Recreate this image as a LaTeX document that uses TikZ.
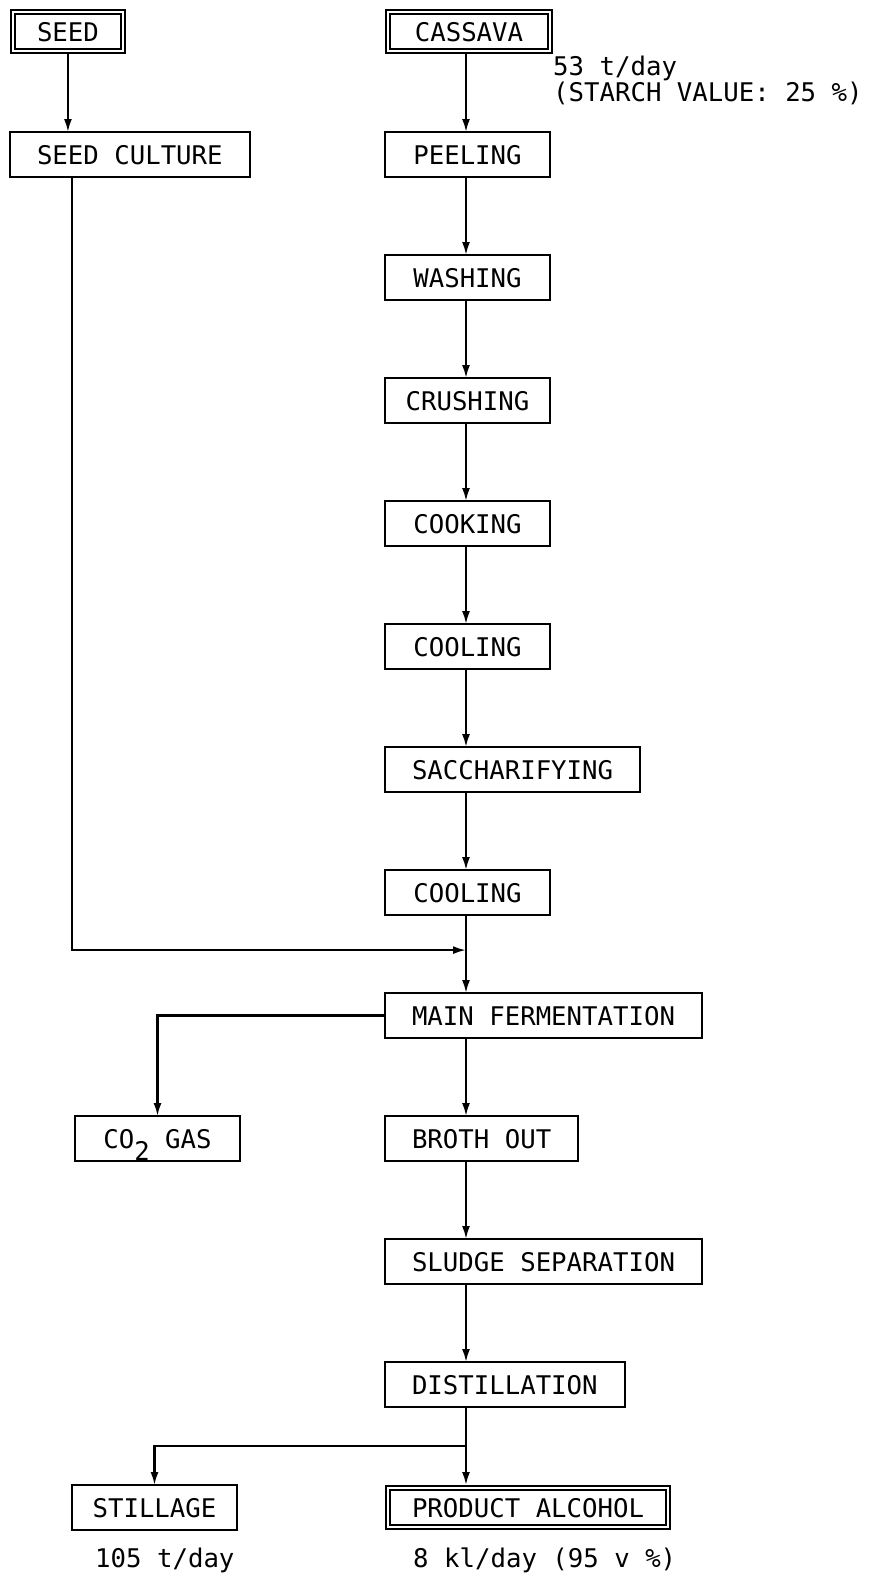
\documentclass[tikz,border=0pt]{standalone}
\usepackage{fontspec}
\setmonofont{DejaVu Sans Mono}
\usetikzlibrary{positioning,arrows.meta,calc}

\begin{document}
\begin{tikzpicture}[
  x=1pt, y=1pt,
  box/.style={draw, line width=1.7pt, minimum width=165pt, minimum height=45pt, inner xsep=27pt, inner ysep=0pt, outer sep=0pt, text height=19pt, text depth=0pt, font=\ttfamily\fontsize{25.7}{24}\selectfont},
  dbox/.style={box, double, double distance=2.6pt, minimum width=0pt, minimum height=39pt, inner xsep=24pt, outer sep=3pt},
  note/.style={inner sep=0pt, align=left, font=\ttfamily\fontsize{25.7}{24}\selectfont},
  flow/.style={line width=2.1pt, -{Latex[length=13pt,width=8pt]}},
  node distance=78pt
]
  \useasboundingbox (0,0) rectangle (876,-1575);
  \coordinate (spine) at (466,0);

  \node[dbox, anchor=north west] (seed) at (10,-9) {SEED};
  \node[dbox, minimum width=162pt, anchor=north west] (cassava) at (385,-9) {CASSAVA};
  \node[note, anchor=north west] (feed) at (553,-56) {53 t/day\\(STARCH VALUE: 25 \%)};
  \node[box, below=of seed.south west, anchor=north west] (culture) {SEED CULTURE};
  \node[box, below=of cassava.south west, anchor=north west] (peeling) {PEELING};
  \node[box, below=of peeling.south west, anchor=north west] (washing) {WASHING};
  \node[box, inner xsep=20pt, below=of washing.south west, anchor=north west] (crushing) {CRUSHING};
  \node[box, below=of crushing.south west, anchor=north west] (cooking) {COOKING};
  \node[box, below=of cooking.south west, anchor=north west] (cooling) {COOLING};
  \node[box, below=of cooling.south west, anchor=north west] (sacch) {SACCHARIFYING};
  \node[box, below=of sacch.south west, anchor=north west] (coolingb) {COOLING};
  \node[box, below=of coolingb.south west, anchor=north west] (mainferm) {MAIN FERMENTATION};
  \node[box, below=of mainferm.south west, anchor=north west] (broth) {BROTH OUT};
  \node[box, below=of broth.south west, anchor=north west] (sludge) {SLUDGE SEPARATION};
  \node[box, below=of sludge.south west, anchor=north west] (distil) {DISTILLATION};
  \node[dbox, below=of distil.south west, anchor=north west] (product) {PRODUCT ALCOHOL};
  \node[box, left=145pt of broth] (co2) {CO\raisebox{-12pt}{2} GAS};
  \node[box, inner xsep=18pt, left=148pt of product] (stillage) {STILLAGE};
  \node[note, below=18pt of stillage.south west, anchor=north west, xshift=23pt] (stilrate) {105 t/day};
  \node[note, below=18pt of product.south west, anchor=north west, xshift=28pt] (prodrate) {8 kl/day (95 v \%)};

  \draw[flow] (seed.south) -- (seed.south |- culture.north);
  \draw[flow] (cassava.south -| spine) -- (peeling.north -| spine);
  \foreach \a/\b in {peeling/washing, washing/crushing, crushing/cooking, cooking/cooling, cooling/sacch, sacch/coolingb, coolingb/mainferm, mainferm/broth, broth/sludge, sludge/distil, distil/product}
    \draw[flow] (\a.south -| spine) -- (\b.north -| spine);
  \coordinate (merge) at ($(coolingb.south -| spine)!0.45!(mainferm.north -| spine)$);
  \draw[flow] ([xshift=4pt]culture.south -| seed.south) |- (merge);
  \draw[flow] (mainferm.west) -| (co2.north);
  \coordinate (split) at ($(distil.south -| spine)!0.5!(product.north -| spine)$);
  \draw[flow] (split) -| (stillage.north);
\end{tikzpicture}
\end{document}
